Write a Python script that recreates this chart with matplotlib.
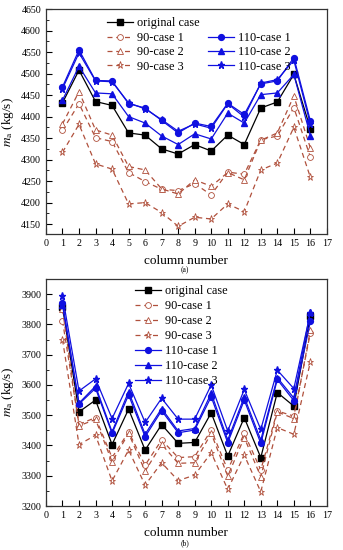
#Python code to plot column mass flow for the different cases
import matplotlib.pyplot as plt
import numpy as np

plt.rcParams['font.family'] = ['Liberation Serif', 'DejaVu Serif']
plt.rcParams['mathtext.fontset'] = 'stix'

cols = np.arange(1, 17)

#Panel (a)
a_orig = [4432, 4508, 4435, 4426, 4362, 4357, 4325, 4313, 4335, 4320, 4357, 4335, 4420, 4434, 4498, 4372]
a_90_1 = [4368, 4430, 4351, 4342, 4270, 4249, 4231, 4228, 4244, 4218, 4271, 4266, 4346, 4355, 4421, 4306]
a_90_2 = [4383, 4458, 4369, 4357, 4284, 4276, 4232, 4220, 4253, 4238, 4270, 4253, 4345, 4362, 4448, 4327]
a_90_3 = [4317, 4382, 4290, 4278, 4197, 4200, 4177, 4145, 4166, 4162, 4197, 4179, 4276, 4292, 4375, 4259]
a_110_1 = [4469, 4555, 4484, 4483, 4430, 4420, 4391, 4362, 4385, 4377, 4431, 4405, 4476, 4483, 4537, 4390]
a_110_2 = [4438, 4517, 4455, 4453, 4400, 4385, 4355, 4335, 4360, 4348, 4408, 4385, 4451, 4455, 4498, 4356]
a_110_3 = [4465, 4548, 4483, 4481, 4432, 4418, 4393, 4366, 4383, 4373, 4430, 4399, 4478, 4486, 4531, 4383]

#Panel (b)
b_orig = [3858, 3511, 3550, 3403, 3520, 3385, 3469, 3407, 3410, 3508, 3365, 3492, 3360, 3575, 3530, 3828]
b_90_1 = [3812, 3470, 3492, 3360, 3445, 3335, 3418, 3360, 3363, 3451, 3319, 3440, 3319, 3514, 3497, 3772]
b_90_2 = [3850, 3465, 3486, 3346, 3440, 3315, 3404, 3341, 3343, 3440, 3299, 3426, 3297, 3511, 3489, 3780]
b_90_3 = [3750, 3403, 3434, 3283, 3385, 3269, 3343, 3284, 3302, 3376, 3255, 3368, 3247, 3459, 3437, 3676]
b_110_1 = [3870, 3537, 3589, 3440, 3567, 3429, 3515, 3442, 3451, 3561, 3409, 3550, 3407, 3618, 3548, 3810]
b_110_2 = [3865, 3540, 3596, 3445, 3578, 3437, 3522, 3448, 3456, 3573, 3418, 3560, 3418, 3624, 3557, 3842]
b_110_3 = [3894, 3580, 3620, 3489, 3605, 3476, 3556, 3487, 3487, 3600, 3448, 3585, 3453, 3649, 3588, 3838]

red = '#b0503c'
blue = '#1010e0'
ms = 4.2

fig = plt.figure(figsize=(3.43, 5.5), dpi=100)
ax1 = fig.add_axes([0.134, 0.5745, 0.819, 0.409])
ax2 = fig.add_axes([0.134, 0.08, 0.819, 0.4127])


def draw(ax, orig, c1, c2, c3, b1, b2, b3):
    h = []
    h.append(ax.plot(cols, orig, color='black', marker='s', ms=ms, lw=0.9, label='original case')[0])
    for d, m, lab in [(c1, 'o', '90-case 1'), (c2, '^', '90-case 2'), (c3, '*', '90-case 3')]:
        h.append(ax.plot(cols, d, color=red, ls=(0, (4, 3)), lw=0.9, marker=m, ms=ms + (1 if m == '*' else 0),
                         mfc='white', mec=red, mew=0.6, label=lab)[0])
    for d, m, lab in [(b1, 'o', '110-case 1'), (b2, '^', '110-case 2'), (b3, '*', '110-case 3')]:
        h.append(ax.plot(cols, d, color=blue, lw=0.9, marker=m, ms=ms + (1 if m == '*' else 0),
                         label=lab)[0])
    ax.set_xlim(0, 17)
    ax.set_xticks(np.arange(0, 18))
    ax.tick_params(direction='in', labelsize=7.2, length=4, width=0.8)
    ax.tick_params(which='minor', direction='in', length=2, width=0.6)
    ax.tick_params(axis='x', which='minor', bottom=False)
    ax.set_xlabel('column number', fontsize=9.5, labelpad=5)
    ax.set_ylabel(r'$m_{\rm a}$ (kg/s)', fontsize=9.5, labelpad=4)
    for s in ax.spines.values():
        s.set_linewidth(0.9)
        s.set_color('#333333')
    return h


h = draw(ax1, a_orig, a_90_1, a_90_2, a_90_3, a_110_1, a_110_2, a_110_3)
ax1.set_ylim(4127, 4650)
ax1.set_yticks(np.arange(4150, 4651, 50))
ax1.set_yticks(np.arange(4150, 4651, 25), minor=True)
blank = plt.Line2D([], [], linestyle='none', marker='none')
ax1.legend([h[0], h[1], h[2], h[3], blank, h[4], h[5], h[6]],
           ['original case', '90-case 1', '90-case 2', '90-case 3', '', '110-case 1', '110-case 2', '110-case 3'],
           ncol=2, frameon=False, fontsize=8.8, loc='upper left', bbox_to_anchor=(0.2, 0.985),
           handlelength=2.1, handletextpad=0.35, columnspacing=0.7, labelspacing=0.2, borderaxespad=0)
fig.text(0.54, 0.505, '(a)', ha='center', fontsize=5.5)

h2 = draw(ax2, b_orig, b_90_1, b_90_2, b_90_3, b_110_1, b_110_2, b_110_3)
ax2.set_ylim(3200, 3950)
ax2.set_yticks(np.arange(3200, 3901, 100))
ax2.set_yticks(np.arange(3200, 3951, 50), minor=True)
ax2.legend(frameon=False, fontsize=8.8, loc='upper left', bbox_to_anchor=(0.3, 0.995),
           handlelength=2.1, handletextpad=0.35, labelspacing=0.25, borderaxespad=0)
fig.text(0.54, 0.008, '(b)', ha='center', fontsize=5.5)

plt.savefig('out.png', dpi=100)
